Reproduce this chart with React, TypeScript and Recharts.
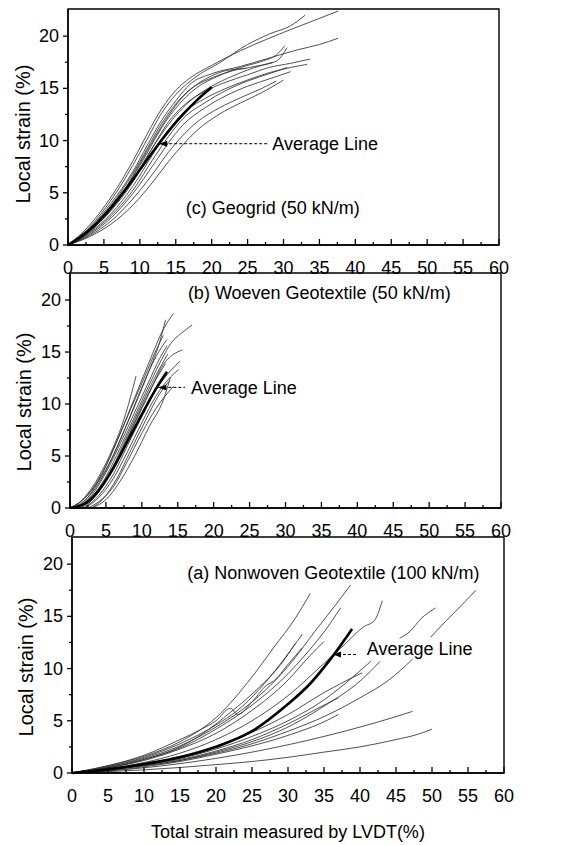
import {
  LineChart,
  Line,
  XAxis,
  YAxis,
  ReferenceArea,
  ReferenceLine,
  ReferenceDot,
} from "recharts";

type Pt = [number, number];

// tick positions shared by all three panels
const xTicks = [0, 2.5, 5, 7.5, 10, 12.5, 15, 17.5, 20, 22.5, 25, 27.5, 30, 32.5, 35, 37.5, 40, 42.5, 45, 47.5, 50, 52.5, 55, 57.5, 60];
const yTicks = [0, 2.5, 5, 7.5, 10, 12.5, 15, 17.5, 20];

// (c) Geogrid 50 kN/m — individual test runs
const geogridRuns: Pt[][] = [
  [[0, 0], [3, 1.9], [6, 4.6], [9, 8.0], [11, 10.6], [13, 13.0], [15, 14.8], [17, 16.0], [20, 17.2], [24, 18.6], [28, 19.8], [32, 20.9], [35, 21.7], [37.6, 22.4]],
  [[0, 0], [3, 1.7], [6, 4.3], [9, 7.6], [11, 10.1], [13, 12.6], [15, 14.4], [18, 16.2], [21, 17.4], [25, 19.2], [28, 20.2], [31, 21.0], [33, 22.0]],
  [[0, 0], [3, 1.6], [6, 4.0], [9, 7.0], [11, 9.5], [13, 11.9], [15, 13.8], [17, 15.4], [20, 16.4], [24, 17.1], [28, 17.9], [32, 18.7], [35, 19.2], [37.6, 19.8]],
  [[0, 0], [3, 1.4], [6, 3.6], [9, 6.5], [11, 8.8], [13, 11.2], [15, 13.1], [18, 15.1], [21, 16.2], [24, 17.0], [27, 17.6], [29, 18.2], [30.2, 19.1]],
  [[0, 0], [3, 1.3], [6, 3.3], [9, 6.0], [12, 9.6], [14, 11.8], [16, 13.3], [19, 14.7], [22, 15.6], [25, 16.3], [28, 17.0], [31, 17.4], [33.7, 17.8]],
  [[0, 0], [3, 1.2], [6, 3.0], [9, 5.6], [12, 8.9], [14, 11.0], [16, 12.6], [19, 14.0], [22, 15.0], [25, 15.8], [28, 16.5], [31, 17.0], [33.3, 17.3]],
  [[0, 0], [3, 1.1], [6, 2.8], [9, 5.2], [12, 8.4], [14, 10.4], [16, 12.1], [19, 13.6], [22, 14.8], [25, 15.7], [28, 16.4], [30.5, 17.0]],
  [[0, 0], [3, 1.0], [6, 2.6], [9, 4.9], [12, 7.8], [14, 9.8], [16, 11.5], [19, 13.1], [22, 14.3], [25, 15.2], [28, 15.9], [31, 16.6]],
  [[0, 0], [3, 0.9], [6, 2.3], [9, 4.4], [12, 7.0], [14, 8.9], [16, 10.5], [18, 11.8], [21, 13.1], [24, 14.1], [27, 15.0], [29, 15.7]],
  [[0, 0], [3, 0.8], [6, 2.0], [9, 3.8], [12, 6.2], [14, 8.0], [16, 9.6], [18, 11.0], [21, 12.5], [24, 13.6], [27, 14.6], [30, 15.8]],
  [[0, 0], [3, 1.5], [6, 3.8], [9, 6.8], [11, 9.2], [13, 11.6], [15, 13.5], [17, 14.9], [20, 16.0], [23, 16.7], [26, 17.1], [29, 17.6], [30.5, 18.9]],
  [[0, 0], [3, 1.3], [6, 3.4], [9, 6.2], [11, 8.5], [13, 10.6], [15, 12.4], [17, 13.8], [20, 15.2], [23, 16.2], [26, 17.0], [28.5, 17.5]],
  [[0, 0], [2, 0.8], [5, 2.6], [8, 5.4], [10, 7.8], [12, 10.2], [14, 12.4], [16, 14.2], [18, 15.4], [20, 16.2], [22, 16.7], [24.8, 16.9]],
];
const geogridAvg: Pt[] = [[0, 0], [2, 0.9], [4, 2.1], [6, 3.6], [8, 5.3], [10, 7.2], [12, 9.1], [14, 10.9], [16, 12.5], [18, 13.9], [20, 15.1]];

// (b) Woven geotextile 50 kN/m
const wovenRuns: Pt[][] = [
  [[1, 0], [3, 1.5], [5, 4.0], [7, 7.2], [9, 10.6], [11, 14.0], [13, 17.2], [14.4, 18.7]],
  [[0.5, 0], [3, 1.4], [5, 3.6], [7, 6.6], [9, 9.8], [11, 13.2], [12.5, 16.0], [13.3, 18.1]],
  [[1, 0], [3, 1.0], [5, 3.0], [7, 5.8], [9, 8.8], [11, 11.8], [13, 14.6], [14, 15.8], [15.5, 16.8], [17, 17.6]],
  [[1.5, 0], [3, 0.9], [5, 2.6], [7, 5.2], [9, 8.1], [11, 11.0], [13, 13.8], [15.6, 15.2]],
  [[2, 0], [4, 1.2], [6, 3.2], [8, 6.0], [10, 8.8], [12, 11.4], [14, 13.2], [15.3, 14.1]],
  [[2, 0], [4, 1.0], [6, 2.8], [8, 5.4], [10, 8.2], [12, 10.8], [14, 12.6], [15.1, 13.3]],
  [[0.5, 0], [2, 1.0], [4, 3.0], [6, 5.8], [7.5, 8.5], [9.2, 12.7]],
  [[2.5, 0], [4, 0.6], [6, 2.0], [8, 4.5], [10, 7.2], [12, 9.6], [14.4, 11.7]],
  [[3, 0], [5, 0.8], [7, 2.6], [9, 5.0], [11, 7.8], [13, 10.4], [14, 12.6]],
  [[1, 0], [3, 1.2], [5, 3.4], [7, 6.2], [9, 9.2], [11, 12.2], [12.5, 14.4], [13.5, 15.6]],
  [[1.5, 0], [3.5, 1.1], [5.5, 3.2], [7.5, 6.0], [9.5, 9.0], [11.5, 11.8], [13.3, 13.9]],
  [[0, 0], [2, 0.9], [4, 2.6], [6, 5.0], [8, 8.2], [10, 11.6], [12, 14.6], [13.5, 16.2]],
  [[3, 0], [4.5, 0.8], [6.5, 2.8], [8.5, 5.6], [10.5, 8.4], [12.5, 11.0], [13.8, 12.2]],
  [[0, 0], [2.5, 1.3], [4.5, 3.4], [6.5, 6.4], [8.5, 9.6], [10.5, 12.8], [12, 15.2], [13, 16.6]],
  [[2, 0], [4, 1.6], [6, 4.0], [8, 7.0], [10, 10.0], [12, 12.8], [13.6, 14.8]],
];
const wovenAvg: Pt[] = [[0, 0], [2, 0.4], [4, 1.7], [6, 3.8], [8, 6.4], [10, 9.0], [12, 11.5], [13.5, 13.1]];

// (a) Nonwoven geotextile 100 kN/m
const nonwovenRuns: Pt[][] = [
  [[0, 0], [5, 0.7], [10, 1.6], [15, 3.0], [20, 5.3], [25, 9.2], [28, 12.0], [31, 14.8], [33.1, 17.2]],
  [[0, 0], [5, 0.6], [10, 1.4], [15, 2.6], [20, 4.4], [25, 6.8], [30, 10.2], [34, 13.8], [36.5, 16.0], [38.7, 18.0]],
  [[0, 0], [5, 0.5], [10, 1.3], [15, 2.4], [20, 4.2], [25, 6.5], [30, 9.5], [33, 11.8], [35, 13.5], [37.3, 15.8]],
  [[0, 0], [5, 0.4], [10, 1.0], [15, 1.9], [20, 3.2], [25, 5.0], [30, 7.4], [35, 10.5], [38, 12.4], [40.5, 14.0], [42, 14.6], [43.1, 16.5]],
  [[0, 0], [5, 0.6], [10, 1.5], [15, 2.8], [20, 4.6], [23, 6.0], [26, 8.0], [29, 10.5], [32, 13.3]],
  [[0, 0], [5, 0.5], [10, 1.3], [15, 2.5], [18, 3.7], [22, 5.8], [26, 8.2], [29, 10.4], [31, 12.4]],
  [[0, 0], [5, 0.7], [10, 1.7], [15, 3.2], [18, 4.2], [20, 5.0], [22, 6.2], [23, 5.6], [25, 6.8], [27, 8.4], [28, 8.8], [30, 10.4], [32, 12.0]],
  [[0, 0], [5, 0.35], [10, 0.8], [15, 1.4], [20, 2.3], [25, 3.5], [30, 5.0], [35, 7.0], [38, 8.6], [41.5, 10.7]],
  [[0, 0], [5, 0.3], [10, 0.7], [15, 1.2], [20, 2.0], [25, 3.0], [30, 4.4], [35, 6.4], [40, 8.8], [42.8, 10.7]],
  [[0, 0], [5, 0.3], [10, 0.7], [15, 1.2], [20, 1.9], [25, 2.8], [30, 4.0], [35, 5.4], [40, 7.2], [44, 8.9], [47.3, 10.9]],
  [[0, 0], [5, 0.2], [10, 0.5], [15, 0.9], [20, 1.4], [25, 2.0], [30, 2.7], [35, 3.5], [40, 4.4], [45, 5.4], [47.3, 5.9]],
  [[0, 0], [10, 0.3], [20, 0.8], [25, 1.1], [30, 1.5], [35, 2.0], [40, 2.5], [45, 3.2], [48, 3.7], [50, 4.2]],
  [[0, 0], [5, 0.4], [10, 0.9], [15, 1.6], [20, 2.6], [25, 3.9], [30, 5.6], [35, 7.7], [40.3, 9.6]],
  [[0, 0], [5, 0.3], [10, 0.8], [15, 1.3], [20, 2.1], [25, 3.2], [30, 4.7], [35, 6.5], [37, 7.2]],
  [[0, 0], [5, 0.2], [10, 0.6], [15, 1.1], [20, 1.8], [25, 2.6], [30, 3.6], [35, 4.9], [37, 5.6]],
  [[0, 0], [5, 0.5], [10, 1.2], [15, 2.3], [20, 3.8], [25, 6.0], [30, 8.9], [33, 11.2], [35, 12.6]],
  [[45.5, 12.9], [47, 13.6], [48.5, 14.8], [50.5, 15.8]],
  [[49.8, 13.0], [52, 14.6], [54, 16.0], [56.1, 17.5]],
];
const nonwovenAvg: Pt[] = [[0, 0], [5, 0.35], [10, 0.85], [15, 1.5], [20, 2.5], [25, 4.0], [30, 6.6], [33, 8.5], [36, 11.0], [38.9, 13.8]];

const toPts = (run: Pt[]) => run.map(([x, y]) => ({ x, y }));

function XTick(props: any) {
  const { x, y, payload } = props;
  const v = payload.value;
  const major = v % 5 === 0;
  return (
    <g>
      <line x1={x} y1={y} x2={x} y2={y - (major ? 6 : 3)} stroke="#000" strokeWidth={1.3} />
      {major && (
        <text x={x} y={y + 23} textAnchor="middle" dominantBaseline="central" fontSize={18} fill="#000">
          {v}
        </text>
      )}
    </g>
  );
}

function YTick(props: any) {
  const { x, y, payload } = props;
  const v = payload.value;
  const major = v % 5 === 0;
  return (
    <g>
      <line x1={x} y1={y} x2={x - (major ? 5 : 3)} y2={y} stroke="#000" strokeWidth={1.3} />
      {major && (
        <text x={x - 9} y={y} textAnchor="end" dominantBaseline="central" fontSize={18} fill="#000">
          {v}
        </text>
      )}
    </g>
  );
}

const ArrowHead = (p: any) => (
  <polygon points={`${p.cx},${p.cy} ${p.cx + 8},${p.cy - 3} ${p.cx + 8},${p.cy + 3}`} fill="#000" />
);

interface PanelProps {
  top: number;
  height: number;
  margin: { top: number; right: number; bottom: number; left: number };
  runs: Pt[][];
  avg: Pt[];
  caption: string;
  captionAt: Pt;
  arrowTip: Pt;
  arrowEnd: Pt;
  textAt: Pt;
  labelX: number;
  labelY: number;
  title?: string;
}

function Panel(p: PanelProps) {
  return (
    <div style={{ position: "absolute", left: 0, top: p.top }}>
      <LineChart width={568} height={p.height} margin={p.margin}>
        <XAxis
          dataKey="x"
          type="number"
          domain={[0, 60]}
          ticks={xTicks}
          interval={0}
          tick={XTick}
          tickLine={false}
          tickSize={0}
          tickMargin={0}
          height={30}
          axisLine={{ stroke: "#000", strokeWidth: 1.4 }}
          label={
            p.title
              ? { value: p.title, position: "bottom", offset: 22, fontSize: 18, fill: "#000" }
              : undefined
          }
        />
        <YAxis
          type="number"
          domain={[0, 22.6]}
          ticks={yTicks}
          interval={0}
          tick={YTick}
          tickLine={false}
          tickSize={0}
          tickMargin={0}
          width={60}
          axisLine={{ stroke: "#000", strokeWidth: 1.4 }}
          label={() => (
            <text
              transform={`translate(${p.labelX}, ${p.labelY}) rotate(-90)`}
              textAnchor="middle"
              dominantBaseline="central"
              fontSize={20}
              fill="#000"
            >
              Local strain (%)
            </text>
          )}
        />
        <ReferenceArea x1={0} x2={60} y1={0} y2={22.6} fill="none" stroke="#000" strokeWidth={1.4} />
        {p.runs.map((r, i) => (
          <Line
            key={i}
            data={toPts(r)}
            dataKey="y"
            type="monotone"
            stroke="#333"
            strokeWidth={0.85}
            dot={false}
            isAnimationActive={false}
          />
        ))}
        <Line
          data={toPts(p.avg)}
          dataKey="y"
          type="monotone"
          stroke="#000"
          strokeWidth={2.6}
          dot={false}
          isAnimationActive={false}
        />
        <ReferenceLine
          segment={[
            { x: p.arrowTip[0], y: p.arrowTip[1] },
            { x: p.arrowEnd[0], y: p.arrowEnd[1] },
          ]}
          stroke="#000"
          strokeWidth={1}
          strokeDasharray="3 2"
        />
        <ReferenceDot x={p.arrowTip[0]} y={p.arrowTip[1]} r={3} shape={ArrowHead} />
        <ReferenceDot
          x={p.textAt[0]}
          y={p.textAt[1]}
          r={1}
          fill="none"
          stroke="none"
          label={{ value: "Average Line", position: "right", offset: 0, fontSize: 18, fill: "#000" }}
        />
        <ReferenceDot
          x={p.captionAt[0]}
          y={p.captionAt[1]}
          r={1}
          fill="none"
          stroke="none"
          label={{ value: p.caption, position: "center", fontSize: 18, fill: "#000" }}
        />
      </LineChart>
    </div>
  );
}

export default function App() {
  return (
    <div
      style={{
        position: "absolute",
        left: 0,
        top: 0,
        width: 568,
        height: 845,
        background: "#fff",
        fontFamily: "'Liberation Sans', Arial, sans-serif",
      }}
    >
      <Panel
        top={0}
        height={290}
        margin={{ top: 9, right: 69, bottom: 15, left: 8 }}
        runs={geogridRuns}
        avg={geogridAvg}
        caption="(c) Geogrid (50 kN/m)"
        captionAt={[28.5, 3.6]}
        arrowTip={[12.7, 9.7]}
        arrowEnd={[27.8, 9.7]}
        textAt={[28.3, 9.7]}
        labelX={23}
        labelY={134}
      />
      <Panel
        top={260}
        height={290}
        margin={{ top: 13, right: 67, bottom: 12, left: 10 }}
        runs={wovenRuns}
        avg={wovenAvg}
        caption="(b) Woeven Geotextile (50 kN/m)"
        captionAt={[34.7, 20.7]}
        arrowTip={[12.3, 11.6]}
        arrowEnd={[16.0, 11.6]}
        textAt={[16.7, 11.6]}
        labelX={24}
        labelY={142}
      />
      <Panel
        top={520}
        height={325}
        margin={{ top: 17, right: 64, bottom: 42, left: 12 }}
        runs={nonwovenRuns}
        avg={nonwovenAvg}
        caption="(a) Nonwoven Geotextile (100 kN/m)"
        captionAt={[36.3, 19.2]}
        arrowTip={[36.25, 11.35]}
        arrowEnd={[39.7, 11.35]}
        textAt={[40.8, 11.9]}
        labelX={26}
        labelY={147}
        title="Total strain measured by LVDT(%)"
      />
    </div>
  );
}
